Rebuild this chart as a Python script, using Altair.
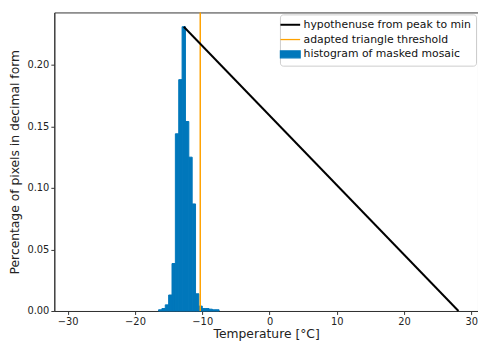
import altair as alt
import pandas as pd

# histogram bins (0.5 °C wide) and their fractions
bin_start = [-16.5, -16.0, -15.5, -15.0, -14.5, -14.0, -13.5, -13.0, -12.5, -12.0,
             -11.5, -11.0, -10.5, -10.0, -9.5, -9.0, -8.5, -8.0]
bin_frac = [0.001, 0.002, 0.005, 0.013, 0.0386, 0.144, 0.188, 0.231, 0.154, 0.125,
            0.087, 0.014, 0.004, 0.002, 0.002, 0.0015, 0.001, 0.001]
bin_width = 0.5

# hypotenuse from peak to min
hyp_x = [-12.75, 28.1]
hyp_y = [0.231, 0.0]

# adapted triangle threshold
threshold = -10.3

S_HYP = "hypothenuse from peak to min"
S_THR = "adapted triangle threshold"
S_HIST = "histogram of masked mosaic"
series = [S_HYP, S_THR, S_HIST]
colors = ["#000000", "#FFA200", "#0077BB"]

hist_df = pd.DataFrame({
    "x": bin_start,
    "x2": [b + bin_width for b in bin_start],
    "y": bin_frac,
    "y0": [0.0] * len(bin_start),
    "s": S_HIST,
})
hyp_df = pd.DataFrame({"x": hyp_x, "y": hyp_y, "s": S_HYP})
thr_df = pd.DataFrame({"x": [threshold], "s": [S_THR]})

FONT = "DejaVu Sans"

xscale = alt.Scale(domain=[-32.0, 31.0], nice=False, zero=False)
yscale = alt.Scale(domain=[0, 0.2426], nice=False)

is_hist = "datum.value === '" + S_HIST + "'"
legend = alt.Legend(
    title=None,
    orient="top-right",
    offset=2,
    padding=5,
    rowPadding=3,
    labelFont=FONT,
    labelFontSize=11,
    labelColor="#111111",
    labelOffset=8,
    labelLimit=400,
    symbolSize=400,
    strokeColor="#cccccc",
    fillColor="rgba(255,255,255,0.85)",
    cornerRadius=3,
    symbolOpacity=1,
    symbolType={"expr": is_hist + " ? 'M-1,-0.35H1V0.35H-1Z' : 'stroke'"},
    symbolFillColor={"expr": is_hist + " ? '#0077BB' : 'transparent'"},
    symbolStrokeColor={"expr": is_hist + " ? 'transparent' : (datum.value === '" + S_HYP + "' ? '#000000' : '#FFA200')"},
    symbolStrokeWidth={"expr": "datum.value === '" + S_HYP + "' ? 2 : 1.3"},
)

color = alt.Color("s:N", scale=alt.Scale(domain=series, range=colors), legend=legend,
                  sort=series)

xaxis = alt.Axis(values=[-30, -20, -10, 0, 10, 20, 30], title="Temperature [°C]", grid=False,
                 titleY=23, titleBaseline="middle")
yaxis = alt.Axis(values=[0, 0.05, 0.10, 0.15, 0.20], format=".2f",
                 title="Percentage of pixels in decimal form", grid=False,
                 titleX=-40, titleBaseline="middle")

bars = alt.Chart(hist_df).mark_rect(opacity=1, stroke="#0077BB", strokeWidth=1).encode(
    x=alt.X("x:Q", scale=xscale, axis=xaxis),
    x2="x2:Q",
    y=alt.Y("y:Q", scale=yscale, axis=yaxis),
    y2="y0:Q",
    color=color,
)

hyp = alt.Chart(hyp_df).mark_line(strokeWidth=2).encode(
    x=alt.X("x:Q", scale=xscale),
    y=alt.Y("y:Q", scale=yscale),
    color=color,
)

thr = alt.Chart(thr_df).mark_rule(strokeWidth=1.5).encode(
    x=alt.X("x:Q", scale=xscale),
    color=color,
)

chart = alt.layer(bars, thr, hyp).properties(
    width=430,
    height=303,
    autosize=alt.AutoSizeParams(type="none"),
    padding={"left": 47, "top": 2, "right": 0, "bottom": 33},
    background="white",
).configure_view(
    stroke="#333333", strokeWidth=1
).configure_axis(
    labelFont=FONT, labelFontSize=10, labelColor="#222222",
    titleFont=FONT, titleFontSize=12.5, titleFontWeight="normal", titleColor="#222222",
    tickColor="#333333", tickSize=3.5, domainColor="#333333",
    labelPadding=2,
)

chart.save("out.html", embed_options={"renderer": "svg", "actions": False})
